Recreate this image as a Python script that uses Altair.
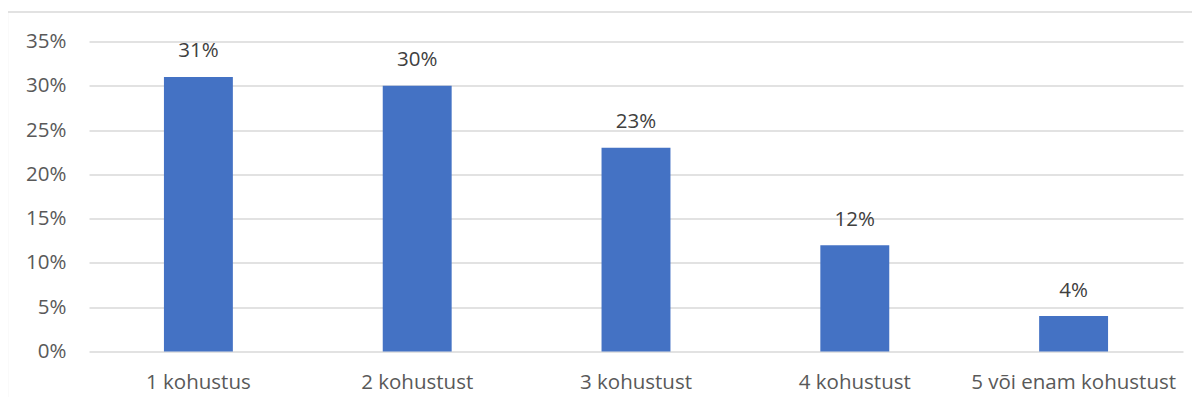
import altair as alt
import pandas as pd

categories = ["1 kohustus", "2 kohustust", "3 kohustust", "4 kohustust", "5 või enam kohustust"]
values = [0.31, 0.30, 0.23, 0.12, 0.04]
y_ticks = [0, 0.05, 0.10, 0.15, 0.20, 0.25, 0.30, 0.35]

df = pd.DataFrame({"cat": categories, "val": values})

FONT = "Open Sans"
FS = 20.5
TXT = "#595959"

base = alt.Chart(df)

x_enc = alt.X("cat:N", sort=categories, title=None,
              scale=alt.Scale(paddingInner=0.685, paddingOuter=0.3425),
              axis=alt.Axis(labelAngle=0, domain=False, ticks=False, labelPadding=21,
                            labelLimit=600, labelOverlap=False,
                            labelFont=FONT, labelFontSize=FS, labelColor=TXT, grid=False))
y_enc = alt.Y("val:Q", title=None,
              scale=alt.Scale(domain=[0, 0.35], nice=False),
              axis=alt.Axis(values=y_ticks, format=".0%", domain=False, ticks=False,
                            labelPadding=23, labelFont=FONT, labelFontSize=FS, labelColor=TXT,
                            gridColor="#d9d9d9", gridWidth=1.3))

bars = base.mark_bar(color="#4472C4").encode(x=x_enc, y=y_enc)
labels = base.mark_text(dy=-25.5, font=FONT, fontSize=FS, color="#404040").encode(
    x=alt.X("cat:N", sort=categories), y="val:Q", text=alt.Text("val:Q", format=".0%"))

border = alt.Chart(pd.DataFrame({"a": [0]})).mark_rect(
    fill="transparent", stroke="#d9d9d9", strokeWidth=1.3, clip=False
).encode(x=alt.value(-81.5), x2=alt.value(1200), y=alt.value(-29.5), y2=alt.value(600))

chart = alt.layer(border, bars, labels).properties(
    width=1094, height=310,
    autosize=alt.AutoSizeParams(type="none"),
    padding={"left": 81, "top": 33.5, "right": 9, "bottom": 45.5},
).configure_view(stroke=None)

chart.save("out.html", embed_options={"renderer": "svg", "actions": False})
